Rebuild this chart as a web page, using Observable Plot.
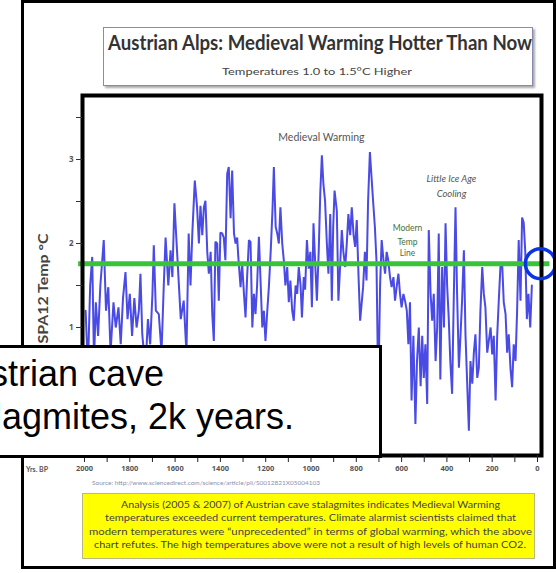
<!DOCTYPE html>
<html><head><meta charset="utf-8">
<script src="https://cdn.jsdelivr.net/npm/d3@7"></script>
<script src="https://cdn.jsdelivr.net/npm/@observablehq/plot@0.6"></script>
<style>
html,body{margin:0;padding:0;background:#fff;}
#page{position:relative;width:556px;height:573px;overflow:hidden;background:#fff;font-family:Lato,"Open Sans",sans-serif;}
#page > svg{position:absolute;left:0;top:0;}
.abs{position:absolute;white-space:nowrap;}
</style></head>
<body><div id="page"></div>
<script>
// ---- data (years before present, SPA12 temperature °C) ----
const yearsBP = [
1995,1985,1975,1966,1958,1950,1940,1930,1915,1905,
1895,1885,1872,1862,1850,1840,1830,1819,1810,1800,
1790,1780,1770,1760,1753,1745,1731,1720,1710,1700,
1694,1685,1672,1660,1650,1642,1630,1620,1612,1603,
1590,1575,1562,1550,1540,1532,1524,1513,1503,1495,
1488,1480,1473,1466,1458,1451,1443,1436,1429,1422,
1414,1407,1400,1392,1385,1378,1370,1363,1355,1348,
1340,1333,1326,1321,1311,1304,1296,1289,1282,1274,
1267,1259,1252,1245,1238,1230,1222,1215,1208,1201,
1193,1186,1178,1170,1164,1156,1149,1142,1135,1127,
1120,1113,1105,1098,1091,1083,1076,1068,1061,1054,
1046,1040,1032,1026,1018,1010,1003,996,989,982,
974,966,959,952,945,938,930,923,915,908,
902,896,886,879,872,864,857,849,842,835,
827,820,812,805,798,790,783,776,770,762,
755,748,740,733,726,718,711,703,695,688,
680,673,666,659,651,644,636,629,621,614,
607,600,592,585,577,570,563,556,548,539,
532,524,516,509,502,495,487,480,472,465,
458,450,443,436,429,421,413,406,399,392,
385,377,370,362,355,347,340,333,325,318,
310,303,296,288,281,274,266,259,252,244,
237,230,222,215,207,200,193,185,178,171,
163,156,149,141,134,127,119,112,105,97,
90,83,75,68,61,54,47,40,32,25];
const tempC = [
1.2,0.5,1.5,1.84,0.6,1.3,0.9,1.5,2.04,1.2,
1.48,0.7,1.3,1.0,1.24,0.8,1.35,1.66,1.1,1.4,
0.9,1.35,1.0,1.2,1.64,0.92,0.5,1.1,0.8,1.4,
1.98,1.2,1.16,0.7,1.5,2.07,1.5,1.92,1.6,2.48,
1.84,1.1,1.32,0.7,2.12,1.5,2.12,2.75,2.43,2.0,
2.45,2.1,2.43,2.51,1.9,1.64,1.9,1.16,0.84,2.02,
2.0,1.32,2.13,2.12,2.07,1.8,2.83,2.91,2.3,2.87,
2.12,2.0,2.07,1.84,1.48,1.76,1.4,1.12,1.6,2.04,
2.02,1.0,1.4,1.16,1.5,2.08,1.5,1.0,1.2,0.84,
1.2,1.48,1.9,2.4,2.91,2.2,2.12,2.0,2.43,2.0,
1.8,1.5,1.72,1.3,1.56,1.2,1.08,1.5,1.4,1.72,
1.5,1.12,1.6,1.45,2.04,1.7,1.9,1.24,2.24,1.8,
1.32,1.9,2.6,3.05,2.7,2.51,2.0,1.64,2.35,1.32,
2.2,2.63,2.39,1.32,1.7,2.16,1.9,1.72,2.0,2.35,
2.1,2.43,2.1,1.96,2.28,1.6,1.08,1.3,1.48,1.9,
1.56,2.5,3.09,2.8,2.51,2.2,1.8,0.2,1.5,2.04,
1.8,1.64,1.9,1.8,1.6,1.48,1.6,1.32,1.5,1.64,
1.4,1.24,1.4,1.32,1.2,0.8,1.3,0.13,0.9,-0.15,
0.6,1.0,0.3,0.9,0.4,0.8,0.09,2.16,1.4,1.08,
1.4,0.6,1.0,2.12,0.38,1.72,1.0,2.24,1.5,1.12,
0.6,0.21,1.3,2.43,1.4,0.52,0.9,1.32,1.92,0.92,
0.3,-0.23,0.6,0.33,0.7,0.92,0.4,0.52,1.2,1.72,
1.4,1.24,0.7,0.84,1.0,0.68,0.9,0.13,0.9,1.32,
1.76,1.76,1.3,1.16,0.7,0.92,0.5,0.29,0.8,0.6,
1.2,2.04,1.32,2.31,2.25,1.9,1.1,1.4,1.0,1.5];
const modernTemp = 1.76;
const xTickYears = d3.range(0, 2001, 100);
const yTickValues = [0.5, 1, 1.5, 2, 2.5, 3, 3.5];
const titleText = "Austrian Alps: Medieval Warming Hotter Than Now";
const subtitleText = "Temperatures 1.0 to 1.5°C Higher";
const yAxisTitle = "SPA12 Temp °C";
const xAxisTitle = "Yrs. BP";
const sourceText = "Source: http://www.sciencedirect.com/science/article/pii/S0012821X05004103";
const noteLines = [
 "Analysis (2005 & 2007) of Austrian cave stalagmites indicates Medieval Warming",
 "temperatures exceeded current temperatures. Climate alarmist scientists claimed that",
 "modern temperatures were \u201cunprecedented\u201d in terms of global warming, which the above",
 "chart refutes. The high temperatures above were not a result of high levels of human CO2."
];
const calloutLines = ["Austrian cave", "stalagmites, 2k years."];
const annotations = [
 {bp: 954, t: 3.26, label: "Medieval Warming", fs: 10.5, fill: "#555", st: "normal"},
 {bp: 380, t: 2.77, label: "Little Ice Age", fs: 9.5, fill: "#555", st: "italic"},
 {bp: 380, t: 2.59, label: "Cooling", fs: 9.5, fill: "#555", st: "italic"},
 {bp: 574, t: 2.18, label: "Modern", fs: 8.5, fill: "#4a7040", st: "normal"},
 {bp: 574, t: 2.02, label: "Temp", fs: 8.5, fill: "#4a7040", st: "normal"},
 {bp: 574, t: 1.88, label: "Line", fs: 8.5, fill: "#4a7040", st: "normal"}
];

const page = document.getElementById("page");
const series = yearsBP.map((bp, i) => ({bp, t: tempC[i]}));

const chart = Plot.plot({
  width: 556, height: 573,
  marginLeft: 82, marginRight: 15, marginTop: 95, marginBottom: 118,
  x: {domain: [2000, 0], range: [84, 537]},
  y: {domain: [-0.524, 3.762]},
  style: {background: "transparent", overflow: "visible"},
  marks: [
    Plot.lineY(series, {x: "bp", y: "t", stroke: "#2a2ae0", strokeWidth: 2, strokeOpacity: 0.85, strokeLinejoin: "miter"}),
    Plot.ruleY([modernTemp], {x1: 2026, x2: -55, stroke: "#38c438", strokeWidth: 5}),
    Plot.frame({stroke: "#000", strokeWidth: 4}),
    Plot.axisY(yTickValues, {anchor: "left", tickSize: 6, tickPadding: 3, stroke: "#333",
      tickFormat: d => Number.isInteger(d) ? String(d) : "", fontSize: 8, fontWeight: "bold", fill: "#555", label: null}),
    Plot.axisX(xTickYears, {anchor: "bottom", tickSize: 7, tickPadding: 3, stroke: "#223",
      tickFormat: d => d % 200 === 0 ? String(d) : "", fontSize: 7.5, fontWeight: "bold", fill: "#555", label: null}),
    Plot.dot([{bp: -13, t: modernTemp}], {x: "bp", y: "t", r: 15, stroke: "#0b35e0", strokeWidth: 3.5, fill: "none"}),
    Plot.text(annotations.filter(d => d.st === "normal"), {x: "bp", y: "t", text: "label", fontSize: d => d.fs, fill: "fill", fontFamily: "Lato, sans-serif"}),
    Plot.text(annotations.filter(d => d.st === "italic"), {x: "bp", y: "t", text: "label", fontSize: d => d.fs, fill: "fill", fontStyle: "italic", fontFamily: "Lato, sans-serif"})
  ]
});
page.appendChild(chart);

function addText(txt, o) {
  const d = document.createElement("div");
  d.className = "abs";
  d.textContent = txt;
  Object.assign(d.style, {
    left: o.left + "px", top: o.top + "px", fontSize: o.size + "px", lineHeight: o.size + "px",
    fontWeight: o.weight || "normal", color: o.color || "#000", fontFamily: o.family || "Lato, sans-serif",
    fontStyle: o.style || "normal", zIndex: o.z || 5
  });
  page.appendChild(d);
  if (o.width) {
    const w = d.getBoundingClientRect().width;
    d.style.transformOrigin = "0 0";
    d.style.transform = `scaleX(${o.width / w})`;
  }
  return d;
}
function addBox(o) {
  const d = document.createElement("div");
  d.className = "abs";
  Object.assign(d.style, {left: o.left + "px", top: o.top + "px", width: o.w + "px", height: o.h + "px",
    boxSizing: "border-box", border: o.border || "none", background: o.bg || "transparent",
    boxShadow: o.shadow || "none", zIndex: o.z || 2});
  page.appendChild(d);
  return d;
}

// outer frame
addBox({left: 21, top: 0, w: 535, h: 569, border: "3.5px solid #000", z: 1});
// title box
addBox({left: 103, top: 27, w: 430, h: 59, border: "1.5px solid #8a8ab0", bg: "#fff", shadow: "2px 2px 2px #aaa", z: 2});
addText(titleText, {left: 108, top: 32, size: 20, weight: "bold", color: "#333", width: 424});
addText(subtitleText, {left: 222, top: 66, size: 10, color: "#444", width: 190});
// axis titles
const yt = addText(yAxisTitle, {left: 0, top: 0, size: 13, weight: "bold", color: "#444"});
{
  const w = yt.getBoundingClientRect().width;
  yt.style.left = (43 - w / 2) + "px";
  yt.style.top = (288 - 6.5) + "px";
  yt.style.transformOrigin = "50% 50%";
  yt.style.transform = `rotate(-90deg) scaleX(${110 / w})`;
}
addText(xAxisTitle, {left: 26, top: 466, size: 7.5, weight: "bold", color: "#555", width: 22});
addText(sourceText, {left: 92, top: 480, size: 6, color: "#8890b0", width: 228});
// yellow note
addBox({left: 82, top: 493, w: 453, h: 66, border: "1px solid #b8b880", bg: "#ffff00", z: 2});
const noteW = [379, 411, 443, 432];
const noteTop = [500, 513, 527, 540];
noteLines.forEach((ln, i) => {
  addText(ln, {left: 310 - noteW[i] / 2, top: noteTop[i], size: 9.5, color: "#444", width: noteW[i]});
});
// callout box (overlay): left-aligned text whose start runs past the page edge
const cb = addBox({left: -4, top: 345, w: 386, h: 113, border: "3px solid #000", bg: "#fff", z: 10});
cb.style.overflow = "hidden";
const calloutSize = 36;
const probe = document.createElement("span");
probe.textContent = "stal";
Object.assign(probe.style, {position: "absolute", visibility: "hidden", whiteSpace: "nowrap",
  fontFamily: "'Liberation Sans', Arial, sans-serif", fontSize: calloutSize + "px"});
page.appendChild(probe);
const stalW = probe.getBoundingClientRect().width;
probe.remove();
const tx = document.createElement("div");
tx.innerHTML = calloutLines.join("<br>");
Object.assign(tx.style, {position: "absolute", whiteSpace: "nowrap", fontFamily: "'Liberation Sans', Arial, sans-serif",
  fontSize: calloutSize + "px", lineHeight: "43px", color: "#000", top: "4px", left: (4 - stalW - 1) + "px"});
cb.appendChild(tx);
</script>
</body></html>
